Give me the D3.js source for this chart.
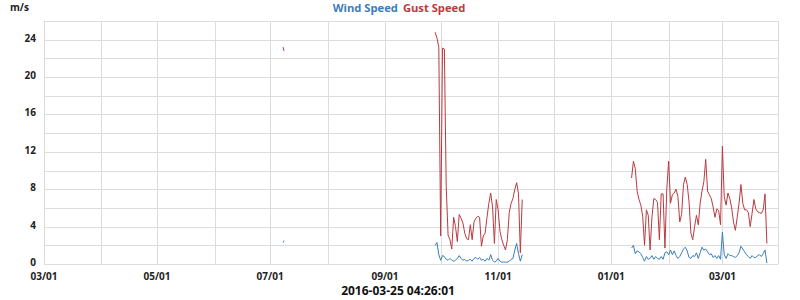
<!DOCTYPE html>
<html>
<head>
<meta charset="utf-8">
<script src="https://cdn.jsdelivr.net/npm/d3@7"></script>
<style>
  body { margin: 0; background: #fff; }
  svg { display: block; font-family: "Open Sans", sans-serif; }
  .grid line { stroke: #dcdcdc; stroke-width: 1; shape-rendering: crispEdges; }
  .tick-label { font-size: 10px; font-weight: 700; fill: #222; }
</style>
</head>
<body>
<div id="chart"></div>
<script>
// values (m/s)
var julyTimes = ["2015-07-08 00:00", "2015-07-08 12:00"];
var julyWind = [2.3, 2.5];
var julyGust = [23.2, 22.8];

// daily samples from this start
var autumnStart = "2015-09-28 00:00";
var autumnWind = [2.0, 2.3, 1.0, 0.4, 0.9, 0.8, 0.5, 0.4, 0.6, 0.4, 0.3, 0.4, 0.6, 0.9, 0.6, 0.4,
                  0.5, 0.3, 0.4, 0.5, 0.3, 0.6, 0.7, 0.5, 0.7, 0.4, 0.5, 0.3, 0.6, 0.4, 1.0, 0.4,
                  0.2, 0.3, 0.6, 0.3, 0.2, 0.2, 0.2, 0.2, 0.3, 0.5, 0.6, 1.5, 2.2, 1.1, 0.3, 1.0];
var autumnGust = [24.8, 24.2, 23.2, 3.0, 23.1, 23.0, 8.3, 3.1, 2.6, 1.6, 5.0, 4.0, 2.4, 5.3, 4.9, 4.4,
                  3.3, 2.7, 2.6, 4.2, 2.6, 4.5, 4.9, 5.1, 5.0, 1.9, 3.0, 3.3, 5.0, 6.5, 7.6, 6.1,
                  2.2, 6.9, 5.8, 3.5, 2.6, 2.0, 1.5, 2.6, 5.5, 6.5, 7.0, 8.0, 8.7, 7.5, 1.2, 6.9];

var winterStart = "2016-01-12 00:00";
var winterWind = [1.7, 2.0, 1.1, 1.4, 1.3, 1.1, 0.7, 0.3, 0.8, 0.5, 0.6, 0.9, 0.5, 0.8, 0.6, 0.5,
                  0.8, 0.5, 1.2, 1.3, 1.0, 1.5, 1.0, 1.4, 0.9, 0.6, 0.8, 1.2, 1.6, 1.8, 1.4, 0.7,
                  0.6, 0.9, 0.8, 1.2, 0.6, 1.2, 1.8, 1.5, 1.6, 1.3, 1.0, 1.1, 0.7, 0.9, 0.6, 0.9,
                  0.5, 3.4, 1.0, 0.6, 1.1, 0.9, 0.9, 0.8, 0.7, 0.9, 1.2, 1.9, 1.6, 1.3, 1.0, 0.8,
                  0.6, 0.9, 0.7, 0.7, 0.9, 1.0, 0.8, 1.1, 1.5, 0.1];
var winterGust = [9.2, 11.0, 10.2, 7.8, 6.9, 6.3, 5.1, 2.0, 5.8, 5.2, 1.5, 5.0, 7.0, 6.9, 6.6, 2.6,
                  7.5, 7.5, 1.7, 8.0, 11.0, 6.5, 7.4, 7.6, 8.0, 7.2, 4.5, 5.3, 8.5, 9.3, 8.5, 6.7,
                  3.3, 2.6, 4.0, 5.2, 4.2, 6.5, 7.8, 8.8, 11.2, 7.8, 7.4, 7.0, 6.1, 5.0, 5.9, 5.7,
                  4.2, 12.6, 7.2, 6.3, 7.6, 7.0, 6.0, 4.5, 3.6, 5.0, 6.5, 8.5, 6.5, 5.8, 5.8, 5.5,
                  4.0, 5.4, 6.9, 5.9, 5.6, 5.5, 5.4, 5.8, 7.5, 2.2];

var yTicks = [0, 4, 8, 12, 16, 20, 24];
var seriesNames = ["Wind Speed", "Gust Speed"];
var seriesColors = ["#3a7dbb", "#bb3a40"];
var unitLabel = "m/s";
var timestamp = "2016-03-25 04:26:01";

var width = 800, height = 300;
var margin = {top: 21, right: 22, bottom: 36, left: 44};

var parseTime = d3.timeParse("%Y-%m-%d %H:%M");

// turn a start date + daily values into points
function daily(start, values) {
    var t0 = parseTime(start);
    return values.map(function(v, i) { return {t: d3.timeDay.offset(t0, i), v: v}; });
}
function listed(times, values) {
    return values.map(function(v, i) { return {t: parseTime(times[i]), v: v}; });
}

var windSegments = [listed(julyTimes, julyWind), daily(autumnStart, autumnWind), daily(winterStart, winterWind)];
var gustSegments = [listed(julyTimes, julyGust), daily(autumnStart, autumnGust), daily(winterStart, winterGust)];

var x = d3.scaleTime()
    .domain([new Date(2015, 2, 1), new Date(2016, 2, 31)])
    .range([margin.left, width - margin.right]);
var y = d3.scaleLinear()
    .domain([0, 26])
    .range([height - margin.bottom, margin.top]);

var svg = d3.select("#chart").append("svg")
    .attr("width", width)
    .attr("height", height);

// grid
var grid = svg.append("g").attr("class", "grid");
grid.selectAll(".h").data(d3.range(0, 27, 2))
    .enter().append("line")
    .attr("x1", margin.left).attr("x2", width - margin.right)
    .attr("y1", function(d) { return Math.round(y(d)) + 0.5; })
    .attr("y2", function(d) { return Math.round(y(d)) + 0.5; });
var months = x.ticks(d3.timeMonth.every(1)).concat([x.domain()[1]]);
grid.selectAll(".v").data(months)
    .enter().append("line")
    .attr("y1", margin.top).attr("y2", height - margin.bottom)
    .attr("x1", function(d) { return Math.round(x(d)) + 0.5; })
    .attr("x2", function(d) { return Math.round(x(d)) + 0.5; });

// axis labels
svg.selectAll(".ylab").data(yTicks)
    .enter().append("text")
    .attr("class", "tick-label")
    .attr("x", margin.left - 8)
    .attr("y", function(d) { return y(d) - 1.5; })
    .attr("dy", "0.35em")
    .attr("text-anchor", "end")
    .text(function(d) { return d; });

var fmt = d3.timeFormat("%m/%d");
svg.selectAll(".xlab").data(x.ticks(d3.timeMonth.every(2)))
    .enter().append("text")
    .attr("class", "tick-label")
    .attr("x", function(d) { return x(d); })
    .attr("y", height - margin.bottom + 15.5)
    .attr("text-anchor", "middle")
    .text(function(d) { return fmt(d); });

// lines
var line = d3.line()
    .x(function(d) { return x(d.t); })
    .y(function(d) { return y(d.v); });

svg.append("g").selectAll("path").data(gustSegments)
    .enter().append("path")
    .attr("d", line)
    .attr("fill", "none")
    .attr("stroke", seriesColors[1])
    .attr("stroke-width", 1);

svg.append("g").selectAll("path").data(windSegments)
    .enter().append("path")
    .attr("d", line)
    .attr("fill", "none")
    .attr("stroke", seriesColors[0])
    .attr("stroke-width", 1);

// unit, legend, timestamp
svg.append("text")
    .attr("x", 10).attr("y", 11)
    .attr("font-size", 10).attr("font-weight", 700).attr("fill", "#222")
    .text(unitLabel);

var legend = svg.append("text")
    .attr("x", 399).attr("y", 12)
    .attr("text-anchor", "middle")
    .attr("font-size", 11.2).attr("font-weight", 700);
legend.selectAll("tspan").data(seriesNames)
    .enter().append("tspan")
    .attr("dx", function(d, i) { return i ? 5 : 0; })
    .attr("fill", function(d, i) { return seriesColors[i]; })
    .text(function(d) { return d; });

svg.append("text")
    .attr("x", 398).attr("y", 295)
    .attr("text-anchor", "middle")
    .attr("font-size", 12).attr("font-weight", 700).attr("fill", "#111")
    .text(timestamp);
</script>
</body>
</html>
